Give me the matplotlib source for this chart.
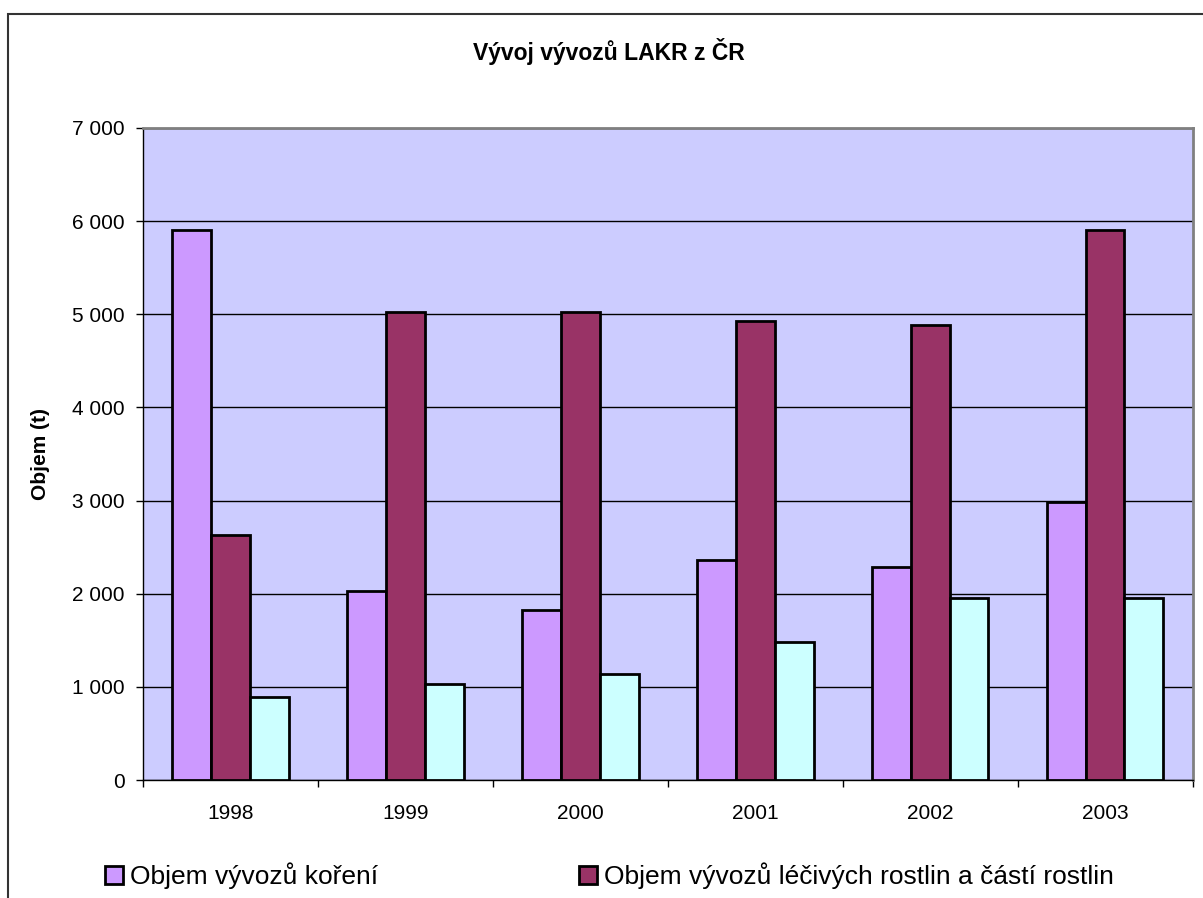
import numpy as np
import matplotlib
matplotlib.use("Agg")
import matplotlib.pyplot as plt
from matplotlib.patches import Patch, Rectangle
from matplotlib.ticker import FuncFormatter

plt.rcParams['font.family'] = ['Liberation Sans', 'DejaVu Sans']

years = ['1998', '1999', '2000', '2001', '2002', '2003']
koreni = [5910, 2030, 1820, 2360, 2290, 2990]          # t
lecive = [2630, 5020, 5025, 4930, 4880, 5910]          # t
treti = [890, 1030, 1140, 1480, 1950, 1950]            # t
legend_names = ['Objem vývozů koření', 'Objem vývozů léčivých rostlin a částí rostlin']

fig = plt.figure(figsize=(12.03, 8.98), dpi=100)
ax = fig.add_axes([143 / 1203, 1 - 780 / 898, 1049.5 / 1203, 652 / 898])
ax.set_facecolor('#CCCCFF')

x = np.arange(len(years))
w = 1 / 4.5
b1 = ax.bar(x - w, koreni, w, color='#CC99FF', edgecolor='black', linewidth=2, zorder=3)
b2 = ax.bar(x, lecive, w, color='#993366', edgecolor='black', linewidth=2, zorder=3)
b3 = ax.bar(x + w, treti, w, color='#CCFFFF', edgecolor='black', linewidth=2, zorder=3)

ax.set_xlim(-0.5, len(years) - 0.5)
ax.set_ylim(0, 7000)
ax.set_yticks(np.arange(0, 7001, 1000))
ax.yaxis.set_major_formatter(FuncFormatter(lambda v, p: f"{int(v):,}".replace(',', ' ')))
ax.yaxis.grid(True, color='black', linewidth=1.0, zorder=1)

ax.set_xticks(x)
ax.set_xticklabels(years)
ax.set_xticks(np.arange(-0.5, len(years)), minor=True)
ax.tick_params(axis='x', which='major', length=0, pad=17, labelsize=15)
ax.tick_params(axis='x', which='minor', length=5, width=1, direction='out')
ax.tick_params(axis='y', length=5, width=1, direction='out', pad=8, labelsize=15)

for s in ['top', 'right']:
    ax.spines[s].set_color('#808080')
    ax.spines[s].set_linewidth(2)
for s in ['left', 'bottom']:
    ax.spines[s].set_color('black')
    ax.spines[s].set_linewidth(1)

fig.text(609 / 1203, 1 - 60 / 898, 'Vývoj vývozů LAKR z ČR', ha='center', va='baseline',
         fontsize=16.5, fontweight='bold')
fig.text(40 / 1203, 1 - 454 / 898, 'Objem (t)', rotation=90, ha='center', va='center',
         fontsize=15, fontweight='bold')

handles = [Patch(facecolor='#CC99FF', edgecolor='black', linewidth=2),
           Patch(facecolor='#993366', edgecolor='black', linewidth=2)]
fig.legend(handles, legend_names, ncol=2, loc='center left',
           bbox_to_anchor=(105 / 1203, 1 - 876 / 898), frameon=False, fontsize=19,
           borderpad=0, borderaxespad=0, handlelength=0.7, handleheight=0.7,
           handletextpad=0.25, columnspacing=7.6)

fig.patches.append(Rectangle((7.5 / 1203, -0.1), 1.2, (898 - 13.7) / 898 + 0.1,
                             transform=fig.transFigure, fill=False,
                             edgecolor='#333333', linewidth=1.5))

fig.savefig('out.png', dpi=100)
